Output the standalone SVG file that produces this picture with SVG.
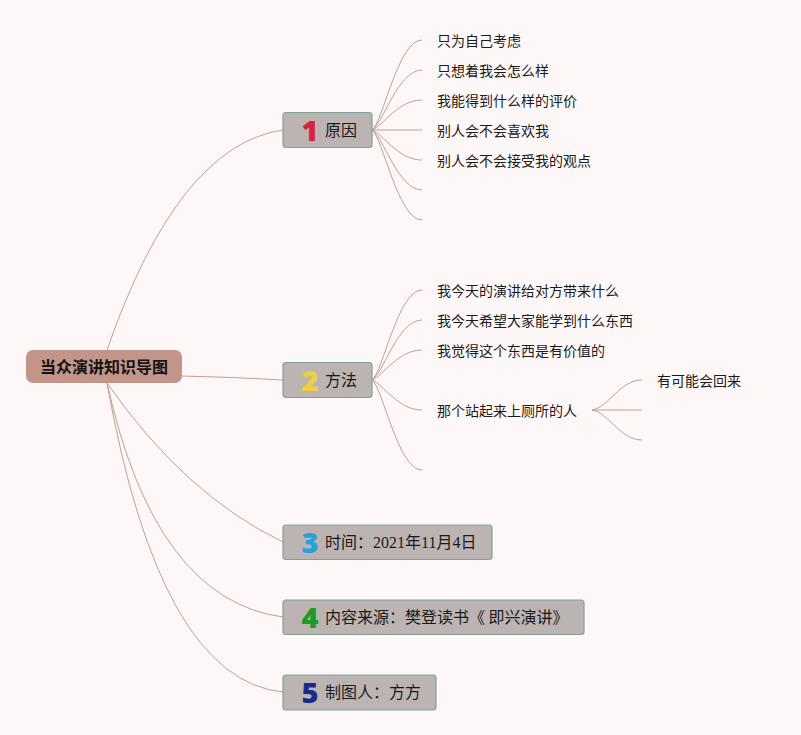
<svg xmlns="http://www.w3.org/2000/svg" width="801" height="735" viewBox="0 0 801 735">
<style>
.bg{fill:#fdf8f7}
.ln{fill:none;stroke:#c59d93;stroke-width:1}
.box{fill:#bcb4b2;stroke:#7fa494;stroke-width:1.2}
.root{fill:#c3958a}
.rt{font-family:"Noto Sans CJK SC",sans-serif;font-size:16px;font-weight:bold;fill:#111}
.nt{font-family:"Noto Sans CJK SC",sans-serif;font-size:16px;fill:#1a1a1a}
.lf{font-family:"Noto Sans CJK SC",sans-serif;font-size:14px;fill:#1a1a1a}
.num{font-family:"Noto Sans","DejaVu Sans",sans-serif;font-size:29px;font-weight:900;text-anchor:middle}
.ser{font-family:"Liberation Serif",serif}
</style>
<rect class="bg" x="0" y="0" width="801" height="735"/>
<g id="connectors">
<path class="ln" d="M107,350 Q178,145 283,130"/>
<path class="ln" d="M182,376 Q232,377 283,380"/>
<path class="ln" d="M107,383 Q185,495 283,542"/>
<path class="ln" d="M107,383 Q155,600 283,617"/>
<path class="ln" d="M107,383 Q160,680 283,692"/>
<path class="ln" d="M372,130 C383,122 398,40 422,40"/>
<path class="ln" d="M372,130 C383,124 398,70 422,70"/>
<path class="ln" d="M372,130 C383,126 398,100 422,100"/>
<path class="ln" d="M372,130 L422,130"/>
<path class="ln" d="M372,130 C383,134 398,160 422,160"/>
<path class="ln" d="M372,130 C383,136 398,190 422,190"/>
<path class="ln" d="M372,130 C383,138 398,220 422,220"/>
<path class="ln" d="M372,380 C383,372 398,290 422,290"/>
<path class="ln" d="M372,380 C383,374 398,320 422,320"/>
<path class="ln" d="M372,380 C383,376 398,350 422,350"/>
<path class="ln" d="M372,380 C383,384 398,410 422,410"/>
<path class="ln" d="M372,380 C383,388 398,470 422,470"/>
<path class="ln" d="M592,410 C608,408 620,380 642,380"/>
<path class="ln" d="M592,410 L642,410"/>
<path class="ln" d="M592,410 C608,412 620,440 642,440"/>
</g>
<g id="root">
<rect class="root" x="26" y="350" width="156" height="33" rx="7"/>
<text class="rt" x="104" y="373" text-anchor="middle">当众演讲知识导图</text>
</g>
<g id="n1">
<rect class="box" x="283" y="112.5" width="89" height="35" rx="3"/>
<text class="num" x="310" y="141" fill="#d8233b">1</text>
<text class="nt" x="325" y="136">原因</text>
</g>
<g id="n1-leaves">
<text class="lf" x="437" y="46">只为自己考虑</text>
<text class="lf" x="437" y="76">只想着我会怎么样</text>
<text class="lf" x="437" y="106">我能得到什么样的评价</text>
<text class="lf" x="437" y="136">别人会不会喜欢我</text>
<text class="lf" x="437" y="166">别人会不会接受我的观点</text>
</g>
<g id="n2">
<rect class="box" x="283" y="362.5" width="89" height="35" rx="3"/>
<text class="num" x="310" y="391" fill="#f0d03e">2</text>
<text class="nt" x="325" y="386">方法</text>
</g>
<g id="n2-leaves">
<text class="lf" x="437" y="296">我今天的演讲给对方带来什么</text>
<text class="lf" x="437" y="326">我今天希望大家能学到什么东西</text>
<text class="lf" x="437" y="356">我觉得这个东西是有价值的</text>
<text class="lf" x="437" y="416">那个站起来上厕所的人</text>
<text class="lf" x="657" y="386">有可能会回来</text>
</g>
<g id="n3">
<rect class="box" x="283" y="525" width="209" height="34.5" rx="3"/>
<text class="num" x="310" y="553" fill="#2a9fdb">3</text>
<text class="nt" x="325" y="548">时间：<tspan class="ser">2021</tspan>年<tspan class="ser">11</tspan>月<tspan class="ser">4</tspan>日</text>
</g>
<g id="n4">
<rect class="box" x="283" y="600" width="301" height="34.5" rx="3"/>
<text class="num" x="310" y="628" fill="#1e9a2b">4</text>
<text class="nt" x="325" y="623">内容来源：樊登读书《 即兴演讲》</text>
</g>
<g id="n5">
<rect class="box" x="283" y="675" width="153" height="35" rx="3"/>
<text class="num" x="310" y="703" fill="#1b2a88">5</text>
<text class="nt" x="325" y="698">制图人：方方</text>
</g>
</svg>
